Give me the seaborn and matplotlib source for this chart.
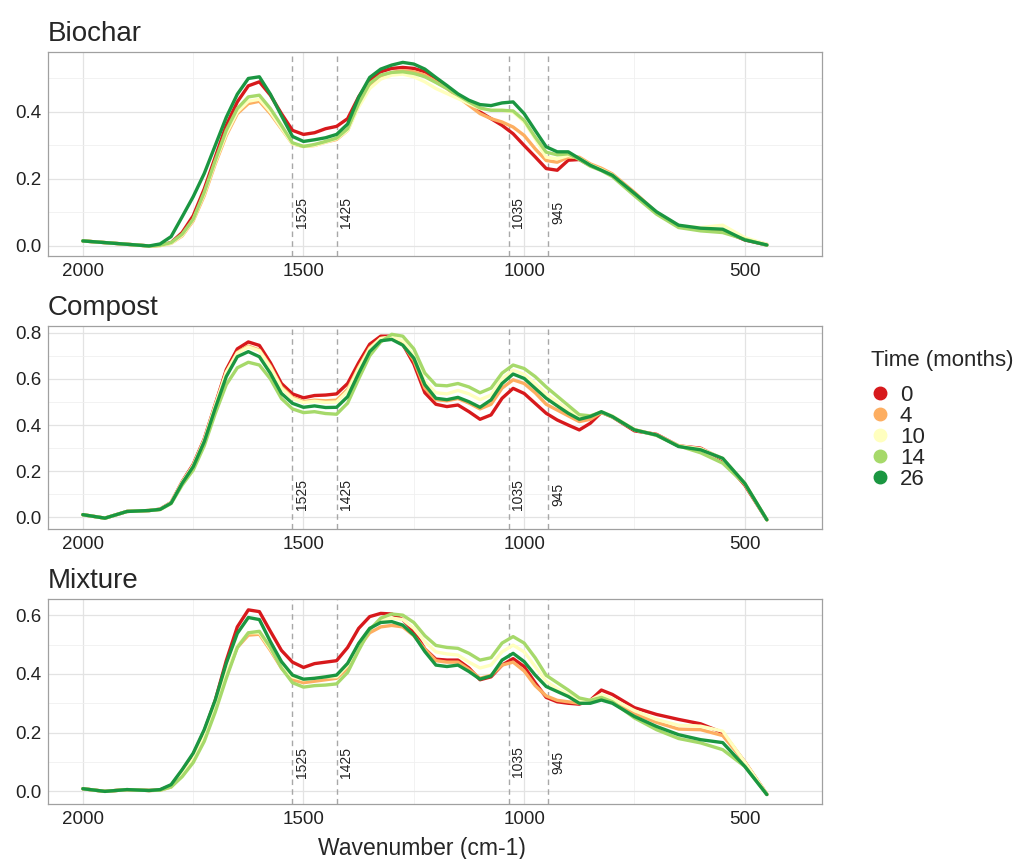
import matplotlib
matplotlib.use("Agg")
import numpy as np
import pandas as pd
import matplotlib.pyplot as plt
import seaborn as sns
from matplotlib.lines import Line2D
from matplotlib.ticker import MultipleLocator, FormatStrFormatter

# wavenumber grid (cm-1) shared by all spectra
wavenumber = [2000, 1950, 1900, 1850, 1825, 1800, 1775, 1750, 1725, 1700, 1675, 1650, 1625, 1600,
              1575, 1550, 1525, 1500, 1475, 1450, 1425, 1400, 1375, 1350, 1325, 1300, 1275,
              1250, 1225, 1200, 1175, 1150, 1125, 1100, 1075, 1050, 1025, 1000, 975, 950,
              925, 900, 875, 850, 825, 800, 750, 700, 650, 600, 550, 500, 450]

times = ["0", "4", "10", "14", "26"]
colors = ["#d7191c", "#fdae61", "#ffffbf", "#a6d96a", "#1a9641"]

# Biochar
biochar_0 = [0.015, 0.010, 0.005, 0.000, 0.002, 0.010, 0.040, 0.090, 0.170, 0.265, 0.360, 0.430, 0.478, 0.490,
             0.450, 0.395, 0.345, 0.333, 0.338, 0.350, 0.357, 0.380, 0.445, 0.495, 0.520, 0.530, 0.533,
             0.530, 0.520, 0.500, 0.475, 0.450, 0.425, 0.400, 0.380, 0.360, 0.335, 0.300, 0.266, 0.231,
             0.226, 0.256, 0.258, 0.240, 0.228, 0.210, 0.155, 0.098, 0.058, 0.050, 0.045, 0.018, 0.003]
biochar_4 = [0.015, 0.010, 0.005, 0.000, 0.001, 0.008, 0.030, 0.075, 0.150, 0.245, 0.330, 0.395, 0.425, 0.432,
             0.395, 0.350, 0.305, 0.297, 0.300, 0.310, 0.318, 0.345, 0.420, 0.480, 0.505, 0.518, 0.523,
             0.520, 0.510, 0.490, 0.470, 0.445, 0.420, 0.395, 0.380, 0.370, 0.355, 0.330, 0.290, 0.255,
             0.250, 0.265, 0.265, 0.245, 0.232, 0.215, 0.160, 0.100, 0.060, 0.050, 0.045, 0.020, 0.005]
biochar_10 = [0.015, 0.010, 0.005, 0.000, 0.001, 0.008, 0.032, 0.078, 0.155, 0.250, 0.335, 0.400, 0.432, 0.438,
              0.400, 0.352, 0.305, 0.297, 0.300, 0.310, 0.320, 0.345, 0.415, 0.470, 0.498, 0.510, 0.513,
              0.505, 0.490, 0.470, 0.455, 0.440, 0.425, 0.410, 0.405, 0.405, 0.400, 0.370, 0.320, 0.265,
              0.260, 0.270, 0.262, 0.242, 0.228, 0.212, 0.155, 0.100, 0.060, 0.055, 0.062, 0.025, 0.005]
biochar_14 = [0.015, 0.010, 0.005, 0.000, 0.002, 0.010, 0.035, 0.080, 0.160, 0.255, 0.345, 0.410, 0.445, 0.450,
              0.410, 0.360, 0.308, 0.297, 0.303, 0.312, 0.322, 0.350, 0.425, 0.485, 0.510, 0.518, 0.520,
              0.515, 0.505, 0.488, 0.470, 0.450, 0.430, 0.412, 0.405, 0.405, 0.403, 0.375, 0.325, 0.280,
              0.272, 0.275, 0.258, 0.238, 0.225, 0.207, 0.150, 0.095, 0.055, 0.045, 0.040, 0.020, 0.002]
biochar_26 = [0.015, 0.010, 0.005, 0.000, 0.006, 0.028, 0.087, 0.147, 0.216, 0.300, 0.384, 0.453, 0.500, 0.505,
              0.453, 0.389, 0.327, 0.312, 0.317, 0.323, 0.333, 0.364, 0.444, 0.503, 0.528, 0.540, 0.548,
              0.543, 0.528, 0.503, 0.479, 0.454, 0.435, 0.422, 0.419, 0.427, 0.430, 0.395, 0.345, 0.296,
              0.281, 0.281, 0.261, 0.241, 0.226, 0.211, 0.157, 0.102, 0.062, 0.053, 0.050, 0.018, 0.003]

# Compost
compost_0 = [0.012, -0.003, 0.026, 0.030, 0.036, 0.065, 0.155, 0.230, 0.340, 0.490, 0.640, 0.730, 0.760, 0.745,
             0.670, 0.580, 0.535, 0.518, 0.528, 0.530, 0.535, 0.580, 0.670, 0.750, 0.785, 0.785, 0.750,
             0.665, 0.540, 0.490, 0.480, 0.487, 0.458, 0.425, 0.444, 0.516, 0.559, 0.537, 0.494, 0.451,
             0.422, 0.400, 0.379, 0.408, 0.455, 0.435, 0.375, 0.360, 0.310, 0.300, 0.250, 0.140, -0.010]
compost_4 = [0.012, -0.003, 0.026, 0.030, 0.035, 0.064, 0.152, 0.225, 0.335, 0.485, 0.630, 0.715, 0.742, 0.725,
             0.655, 0.565, 0.520, 0.502, 0.508, 0.505, 0.508, 0.555, 0.650, 0.735, 0.775, 0.778, 0.750,
             0.680, 0.560, 0.510, 0.505, 0.515, 0.495, 0.470, 0.490, 0.560, 0.596, 0.580, 0.540, 0.490,
             0.465, 0.440, 0.415, 0.425, 0.455, 0.438, 0.380, 0.358, 0.310, 0.297, 0.255, 0.145, -0.010]
compost_10 = [0.012, -0.003, 0.026, 0.030, 0.035, 0.064, 0.152, 0.225, 0.335, 0.485, 0.628, 0.712, 0.738, 0.722,
              0.650, 0.560, 0.515, 0.498, 0.503, 0.498, 0.500, 0.548, 0.645, 0.730, 0.775, 0.782, 0.765,
              0.700, 0.590, 0.540, 0.535, 0.550, 0.535, 0.510, 0.530, 0.600, 0.638, 0.620, 0.580, 0.535,
              0.500, 0.465, 0.440, 0.440, 0.458, 0.440, 0.380, 0.356, 0.310, 0.297, 0.255, 0.150, -0.010]
compost_14 = [0.012, -0.003, 0.026, 0.030, 0.034, 0.060, 0.140, 0.205, 0.310, 0.450, 0.575, 0.648, 0.672, 0.660,
              0.600, 0.515, 0.470, 0.454, 0.458, 0.450, 0.447, 0.495, 0.600, 0.700, 0.760, 0.793, 0.785,
              0.730, 0.625, 0.573, 0.570, 0.580, 0.565, 0.540, 0.560, 0.625, 0.660, 0.645, 0.610, 0.565,
              0.525, 0.485, 0.445, 0.440, 0.455, 0.435, 0.380, 0.355, 0.310, 0.280, 0.235, 0.145, -0.010]
compost_26 = [0.012, -0.003, 0.026, 0.030, 0.035, 0.062, 0.148, 0.220, 0.328, 0.473, 0.610, 0.696, 0.718, 0.696,
              0.624, 0.537, 0.494, 0.477, 0.483, 0.476, 0.477, 0.523, 0.624, 0.718, 0.765, 0.771, 0.746,
              0.690, 0.575, 0.516, 0.510, 0.520, 0.501, 0.477, 0.509, 0.580, 0.621, 0.602, 0.559, 0.516,
              0.483, 0.451, 0.425, 0.437, 0.458, 0.437, 0.379, 0.357, 0.307, 0.293, 0.256, 0.148, -0.010]

# Mixture
mixture_0 = [0.009, 0.000, 0.006, 0.003, 0.005, 0.020, 0.070, 0.125, 0.205, 0.310, 0.445, 0.560, 0.618, 0.612,
             0.545, 0.480, 0.440, 0.422, 0.435, 0.440, 0.445, 0.490, 0.555, 0.595, 0.606, 0.604, 0.585,
             0.545, 0.485, 0.450, 0.447, 0.447, 0.420, 0.380, 0.390, 0.430, 0.452, 0.425, 0.370, 0.320,
             0.305, 0.300, 0.297, 0.310, 0.345, 0.330, 0.285, 0.262, 0.245, 0.230, 0.200, 0.100, -0.010]
mixture_4 = [0.009, 0.000, 0.006, 0.003, 0.004, 0.015, 0.055, 0.105, 0.180, 0.280, 0.395, 0.490, 0.532, 0.535,
             0.480, 0.420, 0.380, 0.370, 0.375, 0.380, 0.385, 0.420, 0.490, 0.540, 0.560, 0.565, 0.560,
             0.530, 0.485, 0.445, 0.440, 0.440, 0.415, 0.385, 0.395, 0.430, 0.440, 0.410, 0.360, 0.325,
             0.310, 0.305, 0.300, 0.305, 0.320, 0.310, 0.265, 0.235, 0.212, 0.210, 0.190, 0.100, -0.010]
mixture_10 = [0.009, 0.000, 0.006, 0.003, 0.004, 0.016, 0.058, 0.110, 0.185, 0.285, 0.400, 0.495, 0.540, 0.540,
              0.485, 0.425, 0.390, 0.380, 0.385, 0.390, 0.390, 0.430, 0.500, 0.555, 0.580, 0.590, 0.585,
              0.555, 0.510, 0.475, 0.468, 0.464, 0.440, 0.420, 0.430, 0.475, 0.498, 0.475, 0.425, 0.375,
              0.350, 0.330, 0.310, 0.310, 0.330, 0.315, 0.275, 0.245, 0.225, 0.222, 0.205, 0.100, -0.010]
mixture_14 = [0.009, 0.000, 0.006, 0.003, 0.004, 0.015, 0.050, 0.098, 0.170, 0.270, 0.385, 0.490, 0.540, 0.545,
              0.490, 0.420, 0.370, 0.355, 0.360, 0.362, 0.366, 0.405, 0.480, 0.550, 0.590, 0.604, 0.600,
              0.575, 0.530, 0.497, 0.490, 0.487, 0.470, 0.447, 0.455, 0.505, 0.527, 0.505, 0.455, 0.395,
              0.370, 0.345, 0.318, 0.310, 0.320, 0.305, 0.250, 0.210, 0.180, 0.165, 0.142, 0.085, -0.010]
mixture_26 = [0.009, 0.000, 0.006, 0.003, 0.006, 0.023, 0.074, 0.130, 0.210, 0.311, 0.436, 0.538, 0.592, 0.585,
              0.510, 0.442, 0.396, 0.382, 0.385, 0.390, 0.396, 0.436, 0.504, 0.555, 0.575, 0.578, 0.566,
              0.532, 0.476, 0.430, 0.425, 0.430, 0.408, 0.382, 0.393, 0.447, 0.470, 0.442, 0.396, 0.357,
              0.340, 0.323, 0.300, 0.300, 0.311, 0.300, 0.255, 0.221, 0.193, 0.176, 0.166, 0.085, -0.011]

marker_bands = [1525, 1425, 1035, 945]

panels = [
    ("Biochar", [biochar_0, biochar_4, biochar_10, biochar_14, biochar_26], (-0.030, 0.579)),
    ("Compost", [compost_0, compost_4, compost_10, compost_14, compost_26], (-0.050, 0.829)),
    ("Mixture", [mixture_0, mixture_4, mixture_10, mixture_14, mixture_26], (-0.043, 0.655)),
]

sns.set_style("white")
plt.rcParams["font.family"] = ["Liberation Sans", "DejaVu Sans"]

W, H = 1032, 859
fig = plt.figure(figsize=(W / 100, H / 100), dpi=100)
# panel boxes in pixels: (left, top, right, bottom)
boxes = [(48, 52, 822, 256), (48, 326, 822, 529), (48, 599, 822, 804)]
palette = dict(zip(times, colors))

for (name, series, ylim), (l, t, r, b) in zip(panels, boxes):
    ax = fig.add_axes([l / W, 1 - b / H, (r - l) / W, (b - t) / H])
    df = pd.DataFrame({
        "wavenumber": wavenumber * len(times),
        "absorbance": np.concatenate(series),
        "time": np.repeat(times, len(wavenumber)),
    })
    sns.lineplot(data=df, x="wavenumber", y="absorbance", hue="time", hue_order=times,
                 palette=palette, estimator=None, linewidth=2.4, legend=False, ax=ax, zorder=3)
    for band in marker_bands:
        ax.axvline(band, color="#a8a8a8", linestyle=(0, (4, 3)), linewidth=1.0, zorder=2)
        ax.annotate(str(band), xy=(band, 0.1), xytext=(2, 0), textcoords="offset points",
                    rotation=90, ha="left", va="center", fontsize=10, color="#222222")
    ax.set_xlim(2079, 325)
    ax.set_ylim(*ylim)
    ax.set_xticks([2000, 1500, 1000, 500])
    ax.xaxis.set_minor_locator(MultipleLocator(250))
    ax.yaxis.set_major_locator(MultipleLocator(0.2))
    ax.yaxis.set_minor_locator(MultipleLocator(0.1))
    ax.yaxis.set_major_formatter(FormatStrFormatter("%.1f"))
    ax.grid(which="major", color="#e3e3e3", linewidth=0.9, zorder=0)
    ax.grid(which="minor", color="#f0f0f0", linewidth=0.6, zorder=0)
    ax.set_axisbelow(True)
    for s in ax.spines.values():
        s.set_color("#a0a0a0")
        s.set_linewidth(0.9)
    ax.tick_params(which="major", length=3, width=0.8, color="#555555",
                   labelsize=13.5, labelcolor="#222222", pad=2)
    ax.tick_params(which="minor", length=0)
    ax.set_xlabel("")
    ax.set_ylabel("")
    ax.set_title(name, loc="left", fontsize=20, pad=8)

fig.text(422 / W, 1 - 849 / H, "Wavenumber (cm-1)", ha="center", va="center", fontsize=16.5)

handles = [Line2D([], [], marker="o", linestyle="", color=c, markersize=9) for c in colors]
leg = fig.legend(handles, times, title="Time (months)", loc="upper left",
                 bbox_to_anchor=(871 / W, 1 - 350 / H), frameon=False, fontsize=16,
                 title_fontsize=16, labelspacing=0.0, handlelength=0.8, handletextpad=0.5,
                 borderaxespad=0, borderpad=0)
leg._legend_box.align = "left"
leg._legend_box.sep = 10

fig.savefig("out.png", dpi=100)
